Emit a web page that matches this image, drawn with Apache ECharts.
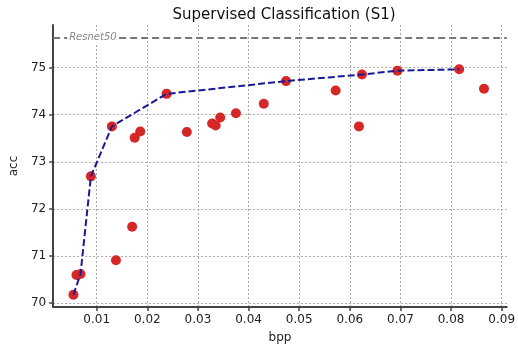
<!DOCTYPE html>
<html>
<head>
<meta charset="utf-8">
<script src="https://cdn.jsdelivr.net/npm/echarts@6/dist/echarts.min.js"></script>
<style>
  html, body { margin: 0; padding: 0; background: #fff; }
  #main { width: 518px; height: 350px; }
</style>
</head>
<body>
<div id="main"></div>
<script>
// all measured points (bpp, acc)
var bppPoints = [0.0054, 0.0060, 0.0068, 0.00885, 0.0130, 0.0138, 0.0170, 0.0175, 0.0186,
                 0.0238, 0.0278, 0.0328, 0.0335, 0.0344, 0.0375, 0.0430, 0.0474,
                 0.0572, 0.0618, 0.0624, 0.0694, 0.0816, 0.0865];
var accPoints = [70.18, 70.60, 70.62, 72.69, 73.75, 70.91, 71.62, 73.51, 73.64,
                 74.44, 73.63, 73.81, 73.77, 73.94, 74.03, 74.23, 74.71,
                 74.51, 73.75, 74.85, 74.93, 74.96, 74.55];
// pareto front (dashed blue)
var frontBpp = [0.0054, 0.0068, 0.00885, 0.0130, 0.0238, 0.0474, 0.0624, 0.0694, 0.0816];
var frontAcc = [70.18, 70.62, 72.69, 73.75, 74.44, 74.71, 74.85, 74.93, 74.96];
var resnetAcc = 75.625;

var xTicks = [0.01, 0.02, 0.03, 0.04, 0.05, 0.06, 0.07, 0.08, 0.09];
var yTicks = [70, 71, 72, 73, 74, 75];

var chart = echarts.init(document.getElementById('main'));

var scatterData = bppPoints.map(function (b, i) { return [b, accPoints[i]]; });
var frontData = frontBpp.map(function (b, i) { return [b, frontAcc[i]]; });

var axisFont = { fontFamily: 'DejaVu Sans', fontSize: 12, color: '#222' };

var option = {
    animation: false,
    backgroundColor: '#fff',
    title: {
        text: 'Supervised Classification (S1)',
        left: 279,
        top: 3,
        textAlign: 'center',
        textStyle: { fontFamily: 'DejaVu Sans', fontSize: 15, fontWeight: 'normal', color: '#111' }
    },
    grid: { left: 47, right: 8, top: 25, bottom: 43 },
    xAxis: {
        type: 'value',
        min: 0.0014,
        max: 0.091,
        name: 'bpp',
        nameLocation: 'middle',
        nameGap: 25,
        nameTextStyle: { fontFamily: 'DejaVu Sans', fontSize: 12, color: '#222' },
        axisLine: { lineStyle: { color: '#444', width: 2 } },
        axisTick: { show: true, length: 4, customValues: xTicks, lineStyle: { color: '#444', width: 1.5 } },
        axisLabel: Object.assign({
            customValues: xTicks,
            margin: 7,
            formatter: function (v) { return v.toFixed(2); }
        }, axisFont),
        splitLine: { show: true, lineStyle: { color: '#aaa', type: [2, 2], width: 1 } }
    },
    yAxis: {
        type: 'value',
        min: 69.92,
        max: 75.9,
        name: 'acc',
        nameLocation: 'middle',
        nameGap: 30,
        nameTextStyle: { fontFamily: 'DejaVu Sans', fontSize: 12, color: '#222' },
        axisLine: { show: true, lineStyle: { color: '#444', width: 2 } },
        axisTick: { show: true, length: 4, customValues: yTicks, lineStyle: { color: '#444', width: 1.5 } },
        axisLabel: Object.assign({
            customValues: yTicks,
            margin: 7,
            formatter: function (v) { return Math.round(v).toString(); }
        }, axisFont),
        splitLine: { show: true, lineStyle: { color: '#aaa', type: [2, 2], width: 1 } }
    },
    series: [
        {
            name: 'front',
            type: 'line',
            data: frontData,
            symbol: 'none',
            z: 3,
            lineStyle: { color: '#1a1a96', width: 2, type: [7, 3] },
            markLine: {
                silent: true,
                symbol: 'none',
                data: [{ yAxis: resnetAcc }],
                lineStyle: { color: '#777', width: 2, type: [7, 4] },
                label: {
                    show: true,
                    position: 'insideStart',
                    distance: 14,
                    formatter: 'Resnet50',
                    fontFamily: 'DejaVu Sans',
                    fontStyle: 'italic',
                    fontSize: 10,
                    color: '#888',
                    backgroundColor: '#fff',
                    padding: [0, 2]
                }
            }
        },
        {
            name: 'points',
            type: 'scatter',
            data: scatterData,
            symbolSize: 10,
            z: 2,
            itemStyle: { color: '#d62728', opacity: 1 }
        }
    ]
};

chart.setOption(option);
</script>
</body>
</html>
